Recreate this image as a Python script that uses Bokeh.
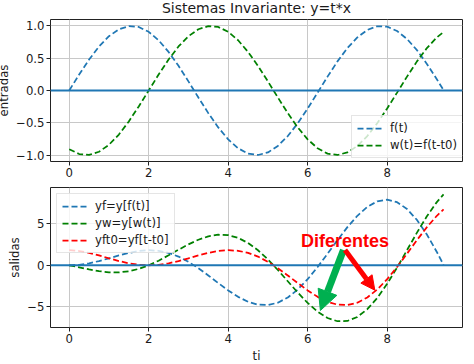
from bokeh.plotting import figure
from bokeh.layouts import column
from bokeh.models import (Range1d, FixedTicker, Span, Title, Arrow, NormalHead,
                          CustomJSTickFormatter)
from bokeh.core.properties import value
from bokeh.embed import file_html
from bokeh.resources import INLINE

# ---- data ----
t = [0, 0.25, 0.5, 0.75, 1.0, 1.25, 1.5, 1.75, 2.0, 2.25, 2.5, 2.75, 3.0, 3.25,
     3.5, 3.75, 4.0, 4.25, 4.5, 4.75, 5.0, 5.25, 5.5, 5.75, 6.0, 6.25, 6.5, 6.75,
     7.0, 7.25, 7.5, 7.75, 8.0, 8.25, 8.5, 8.75, 9.0, 9.25, 9.42]
f = [0.0, 0.247, 0.479, 0.682, 0.841, 0.949, 0.997, 0.984, 0.909, 0.778, 0.598,
     0.382, 0.141, -0.108, -0.351, -0.572, -0.757, -0.895, -0.978, -0.999, -0.959,
     -0.859, -0.706, -0.508, -0.279, -0.033, 0.215, 0.451, 0.657, 0.823, 0.938,
     0.995, 0.989, 0.922, 0.798, 0.625, 0.412, 0.174, 0.005]
w = [-0.909, -0.984, -0.997, -0.949, -0.841, -0.682, -0.479, -0.247, 0.0, 0.247,
     0.479, 0.682, 0.841, 0.949, 0.997, 0.984, 0.909, 0.778, 0.598, 0.382, 0.141,
     -0.108, -0.351, -0.572, -0.757, -0.895, -0.978, -0.999, -0.959, -0.859,
     -0.706, -0.508, -0.279, -0.033, 0.215, 0.451, 0.657, 0.823, 0.907]
yf = [0.0, 0.062, 0.240, 0.511, 0.841, 1.186, 1.496, 1.722, 1.819, 1.751, 1.496,
      1.051, 0.423, -0.352, -1.228, -2.144, -3.027, -3.805, -4.399, -4.747,
      -4.795, -4.509, -3.880, -2.923, -1.676, -0.207, 1.398, 3.038, 4.599, 5.970,
      7.036, 7.711, 7.915, 7.610, 6.787, 5.467, 3.709, 1.608, 0.045]
yw = [0.0, -0.246, -0.499, -0.712, -0.841, -0.853, -0.718, -0.432, 0.0, 0.556,
      1.199, 1.876, 2.524, 3.084, 3.490, 3.690, 3.637, 3.306, 2.693, 1.813, 0.706,
      -0.569, -1.929, -3.287, -4.541, -5.594, -6.354, -6.745, -6.712, -6.227,
      -5.292, -3.939, -2.235, -0.273, 1.828, 3.938, 5.914, 7.617, 8.544]
yft0 = [1.819, 1.722, 1.496, 1.186, 0.841, 0.511, 0.240, 0.062, 0.0, 0.062, 0.240,
        0.511, 0.841, 1.186, 1.496, 1.722, 1.819, 1.751, 1.496, 1.051, 0.423,
        -0.352, -1.228, -2.144, -3.027, -3.805, -4.399, -4.747, -4.795, -4.509,
        -3.880, -2.923, -1.676, -0.207, 1.398, 3.038, 4.599, 5.970, 6.730]

x_ticks = [0, 2, 4, 6, 8]
y_ticks_top = [-1.0, -0.5, 0.0, 0.5, 1.0]
y_ticks_bottom = [-5, 0, 5]

title_text = "Sistemas Invariante: y=t*x"
annot_text = "Diferentes"
annot_xy = (6.94, 2.96)
green_arrow = (6.9, 1.84, 6.32, -5.45)
red_arrow = (6.94, 1.84, 7.69, -3.0)

BLUE = "#1f77b4"
GREEN = "#008000"
RED = "#ff0000"
FONT = "DejaVu Sans"
FS = "11.7px"


def style(p, yticks, ylabel, fmt_digits, xlabel=None):
    p.outline_line_color = "#222222"
    p.outline_line_width = 1
    p.background_fill_color = "white"
    p.border_fill_color = "white"
    for ax in (p.xaxis[0], p.yaxis[0]):
        ax.axis_line_color = None
        ax.major_tick_out = 4
        ax.major_tick_in = 0
        ax.major_tick_line_color = "#222222"
        ax.minor_tick_line_color = None
        ax.major_label_standoff = 2
        ax.major_label_text_font = FONT
        ax.major_label_text_font_size = FS
        ax.major_label_text_color = "#1a1a1a"
        ax.axis_label_text_font = FONT
        ax.axis_label_text_font_size = FS
        ax.axis_label_text_font_style = "normal"
        ax.axis_label_text_color = "#1a1a1a"
    p.xaxis[0].ticker = FixedTicker(ticks=x_ticks)
    p.yaxis[0].ticker = FixedTicker(ticks=yticks)
    p.xgrid[0].ticker = FixedTicker(ticks=x_ticks)
    p.ygrid[0].ticker = FixedTicker(ticks=yticks)
    p.grid.grid_line_color = "#c8c8c8"
    p.grid.grid_line_width = 1
    p.yaxis[0].formatter = CustomJSTickFormatter(
        code="return tick.toFixed(%d).replace('-', '\\u2212');" % fmt_digits)
    p.xaxis[0].formatter = CustomJSTickFormatter(
        code="return tick.toFixed(0).replace('-', '\\u2212');")
    p.yaxis[0].axis_label = ylabel
    p.yaxis[0].axis_label_standoff = 2
    if xlabel:
        p.xaxis[0].axis_label = xlabel
        p.xaxis[0].axis_label_standoff = 3
    p.add_layout(Span(location=0, dimension="width", line_color=BLUE, line_width=2))


def style_legend(leg):
    leg.label_text_font = FONT
    leg.label_text_font_size = FS
    leg.label_text_color = "#1a1a1a"
    leg.glyph_width = 26
    leg.glyph_height = 14
    leg.label_height = 14
    leg.spacing = 3
    leg.padding = 5
    leg.label_standoff = 7
    leg.margin = 0
    leg.border_line_color = "#cccccc"
    leg.background_fill_alpha = 0.8


dash = "6 3"
lw = 1.75

# ---- top plot ----
p1 = figure(width=470, height=191, min_border_left=52, min_border_right=2,
            min_border_top=18, min_border_bottom=24,
            title=Title(text=title_text, align="center", text_font=FONT,
                        text_font_size="14px", text_font_style="normal",
                        text_color="#1a1a1a", standoff=7),
            x_range=Range1d(-0.471, 9.896), y_range=Range1d(-1.1, 1.1),
            output_backend="svg", toolbar_location=None)
style(p1, y_ticks_top, "entradas", 1)
p1.line(t, f, line_color=BLUE, line_width=lw, line_dash=dash, legend_label="f(t)")
p1.line(t, w, line_color=GREEN, line_width=lw, line_dash=dash, legend_label="w(t)=f(t-t0)")
style_legend(p1.legend[0])
p1.legend[0].location = (301, 3)

# ---- bottom plot ----
p2 = figure(width=470, height=180, min_border_left=52, min_border_right=2,
            min_border_top=2, min_border_bottom=37,
            x_range=Range1d(-0.471, 9.896), y_range=Range1d(-7.5, 9.38),
            output_backend="svg", toolbar_location=None)
style(p2, y_ticks_bottom, "salidas", 0, xlabel="ti")
p2.line(t, yf, line_color=BLUE, line_width=lw, line_dash=dash, legend_label="yf=y[f(t)]")
p2.line(t, yw, line_color=GREEN, line_width=lw, line_dash=dash, legend_label="yw=y[w(t)]")
p2.line(t, yft0, line_color=RED, line_width=lw, line_dash=dash, legend_label="yft0=yf[t-t0]")
style_legend(p2.legend[0])
p2.legend[0].location = "top_left"
p2.legend[0].margin = 6

p2.add_layout(Arrow(end=NormalHead(size=20, fill_color="#00b050", line_color="#00b050"),
                    x_start=green_arrow[0], y_start=green_arrow[1],
                    x_end=green_arrow[2], y_end=green_arrow[3],
                    line_color="#00b050", line_width=7))
p2.add_layout(Arrow(end=NormalHead(size=14, fill_color=RED, line_color=RED),
                    x_start=red_arrow[0], y_start=red_arrow[1],
                    x_end=red_arrow[2], y_end=red_arrow[3],
                    line_color=RED, line_width=5))
p2.text(x=[annot_xy[0]], y=[annot_xy[1]], text=[annot_text], text_align="center",
        text_baseline="alphabetic", text_font=value("Liberation Sans"),
        text_font_style="bold", text_font_size="18px", text_color=RED)

layout = column(p1, p2, margin=(-6, 0, -8, -6), spacing=0)
open("out.html", "w").write(file_html(layout, INLINE))
